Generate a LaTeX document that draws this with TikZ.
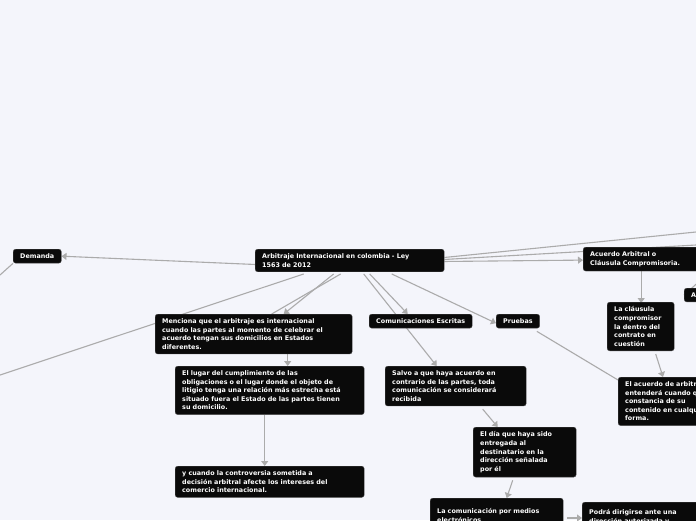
\documentclass[tikz,border=0pt]{standalone}
\usepackage{fontspec}
\setmainfont{DejaVu Sans}
\usetikzlibrary{arrows.meta,backgrounds}
\definecolor{bg}{HTML}{F4F5FB}
\definecolor{ln}{HTML}{ABABAB}
\begin{document}
\begin{tikzpicture}[x=1pt,y=-1pt,
  box/.style={fill=black!96,draw=black!70,line width=0.4pt,rounded corners=2.5pt,text=white,anchor=north west,align=left,
    font=\fontsize{6.4}{8.6}\selectfont\bfseries,inner xsep=7pt,inner ysep=4.5pt},
  con/.style={draw=ln,line width=1.1pt},
  arr/.style={con,-{Triangle[length=5pt,width=7pt]}}]
\useasboundingbox (0,0) rectangle (696,520);
\clip (0,0) rectangle (696,520);
% nodes
\node[box,text width=175pt] (main) at (255,249) {Arbitraje Internacional en colombia - Ley\\1563 de 2012};
\node[box] (dem) at (13,249) {Demanda};
\node[box,text width=183pt] (menc) at (155,314) {Menciona que el arbitraje es internacional\\cuando las partes al momento de celebrar el\\acuerdo tengan sus domicilios en Estados\\diferentes.};
\node[box,text width=175pt] (lugar) at (175,366) {El lugar del cumplimiento de las\\obligaciones o el lugar donde el objeto de\\litigio tenga una relación más estrecha está\\situado fuera el Estado de las partes tienen\\su domicilio.};
\node[box,text width=175pt] (ycuando) at (175,466) {y cuando la controversia sometida a\\decisión arbitral afecte los intereses del\\comercio internacional.};
\node[box] (com) at (369,314) {Comunicaciones Escritas};
\node[box] (prue) at (496,314) {Pruebas};
\node[box,text width=127pt] (salvo) at (385,366) {Salvo a que haya acuerdo en\\contrario de las partes, toda\\comunicación se considerará\\recibida};
\node[box,text width=89pt] (dia) at (473,427) {El día que haya sido\\entregada al\\destinatario en la\\dirección señalada\\por él};
\node[box,text width=119pt,minimum height=34pt] (lacom) at (430,498) {La comunicación por medios\\electrónicos};
\node[box,text width=110pt,minimum height=30pt] (podra) at (582,502) {Podrá dirigirse ante una\\dirección autorizada y};
\node[box,text width=120pt] (acu) at (583,247) {Acuerdo Arbitral o\\Cláusula Compromisoria.};
\node[box,text width=53pt] (clau) at (607,302) {La cláusula\\compromisor\\la dentro del\\contrato en\\cuestión};
\node[box,text width=110pt] (elacu) at (618,377) {El acuerdo de arbitraje se\\entenderá cuando quede\\constancia de su\\contenido en cualquier\\forma.};
\node[box] (abox) at (684,288) {A};
\coordinate (offL1) at (0,375);
\coordinate (offL2) at (0,275);
\coordinate (offR1) at (696,232);
\coordinate (offR2) at (696,245);
\begin{scope}[on background layer]
\fill[bg] (0,0) rectangle (696,520);
\draw[arr] ([yshift=-4pt]main.west) -- (dem.east);
\draw[con] (dem.south west) -- (offL2);
\draw[con] ([xshift=-46pt,yshift=-2pt]main.south) -- (offL1);
\draw[con] ([yshift=3pt]main.east) -- (offR1);
\draw[con] ([yshift=1pt]main.east) -- (offR2);
\draw[arr] ([yshift=-1pt]main.east) -- ([yshift=-1pt]acu.west);
\draw[arr] ([xshift=-16pt,yshift=-2pt]main.south) -- ([xshift=30pt]menc.north);
\draw[con] ([xshift=-9pt,yshift=-2pt]main.south) -- ([xshift=18pt]menc.north);
\draw[arr] ([xshift=34pt]menc.south) -- ([xshift=18pt]lugar.north);
\draw[arr] ([xshift=20pt,yshift=-2pt]main.south) -- ([xshift=-13pt]com.north);
\draw[arr] ([xshift=14pt,yshift=-2pt]main.south) -- ([xshift=-19pt]salvo.north);
\draw[arr] ([xshift=42pt,yshift=-2pt]main.south) -- ([yshift=-2pt]prue.west);
\draw[arr] ([xshift=-5pt]lugar.south) -- ([xshift=-5pt]ycuando.north);
\draw[arr] ([xshift=27pt,yshift=-3pt]salvo.south) -- ([xshift=-27pt]dia.north);
\draw[arr] ([xshift=-12pt,yshift=-3pt]dia.south) -- ([xshift=10pt]lacom.north);
\draw[arr] ([xshift=4pt,yshift=-20pt]lacom.north east) -- ([yshift=-16pt]podra.north west);
\draw[con] ([xshift=-3pt,yshift=-3pt]prue.south east) -- ([yshift=-3pt]elacu.north west);
\draw[arr] ([xshift=-9pt]acu.south) -- ([xshift=-9pt,yshift=-1pt]acu.south |- clau.north);
\draw[arr] ([xshift=15pt,yshift=-3pt]clau.south) -- ([xshift=45pt]elacu.north west);
\draw[con] ([xshift=-9pt,yshift=-2pt]acu.south east) -- (abox.west);
\end{scope}
\end{tikzpicture}
\end{document}
